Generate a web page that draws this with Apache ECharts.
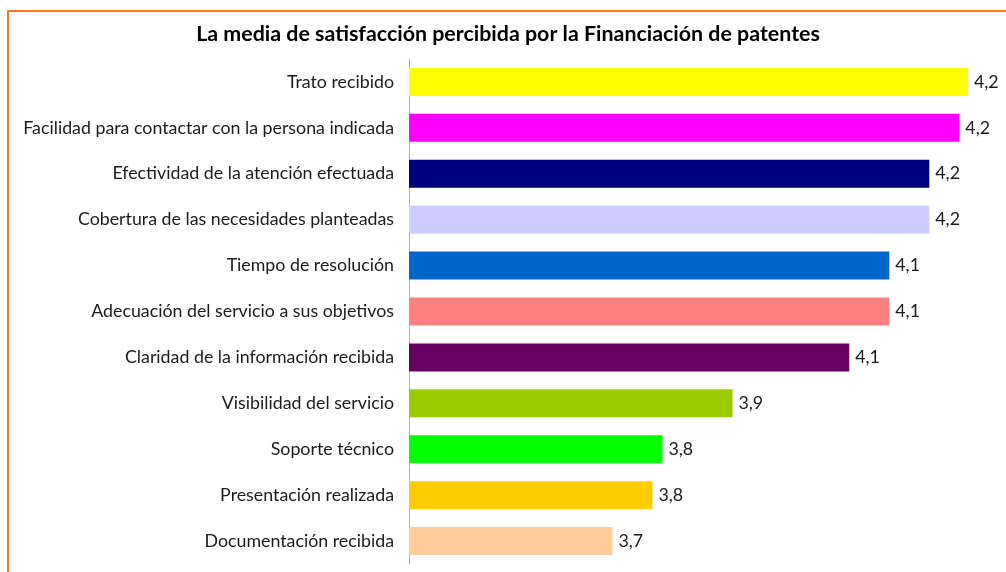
<!DOCTYPE html>
<html>
<head>
<meta charset="utf-8">
<script src="https://cdn.jsdelivr.net/npm/echarts@6/dist/echarts.min.js"></script>
<style>
  html, body { margin: 0; padding: 0; background: #fff; }
  #chart { width: 1006px; height: 572px; }
</style>
</head>
<body>
<div id="chart"></div>
<script>
  // categories, top to bottom
  var categories = [
    "Trato recibido",
    "Facilidad para contactar con la persona indicada",
    "Efectividad de la atención efectuada",
    "Cobertura de las necesidades planteadas",
    "Tiempo de resolución",
    "Adecuación del servicio a sus objetivos",
    "Claridad de la información recibida",
    "Visibilidad del servicio",
    "Soporte técnico",
    "Presentación realizada",
    "Documentación recibida"
  ];
  var values = [4.238, 4.225, 4.18, 4.18, 4.12, 4.12, 4.06, 3.885, 3.78, 3.765, 3.705];
  var barColors = [
    "#FFFF00", "#FF00FF", "#000080", "#CCCCFF", "#0066CC", "#FF8080",
    "#660066", "#99CC00", "#00FF00", "#FFCC00", "#FFCC99"
  ];

  var chart = echarts.init(document.getElementById("chart"));
  var option = {
    animation: false,
    textStyle: { fontFamily: "Lato" },
    title: {
      text: "La media de satisfacción percibida por la Financiación de patentes",
      left: 503,
      textAlign: "center",
      top: 19,
      textStyle: { fontFamily: "Lato", fontSize: 21.4, fontWeight: "bold", color: "#000" }
    },
    graphic: [
      {
        type: "rect",
        shape: { x: 8, y: 11, width: 1010, height: 600 },
        style: { fill: "none", stroke: "#F47A20", lineWidth: 2 },
        silent: true
      }
    ],
    grid: { left: 409, top: 59, width: 567, height: 505 },
    xAxis: {
      type: "value",
      min: 3.4,
      max: 4.25,
      show: false
    },
    yAxis: {
      type: "category",
      inverse: true,
      data: categories,
      axisLine: { show: true, lineStyle: { color: "#B0B0B0", width: 1 } },
      axisTick: { show: false },
      axisLabel: { color: "#1a1a1a", fontSize: 17.8, margin: 15, fontFamily: "Lato" }
    },
    series: [
      {
        type: "bar",
        barWidth: 28,
        data: values.map(function (v, i) {
          return { value: v, itemStyle: { color: barColors[i] } };
        }),
        label: {
          show: true,
          position: "right",
          distance: 6,
          color: "#1a1a1a",
          fontSize: 17.8,
          fontFamily: "Lato",
          formatter: function (p) {
            return p.value.toFixed(1).replace(".", ",");
          }
        }
      }
    ]
  };
  chart.setOption(option);
</script>
</body>
</html>
